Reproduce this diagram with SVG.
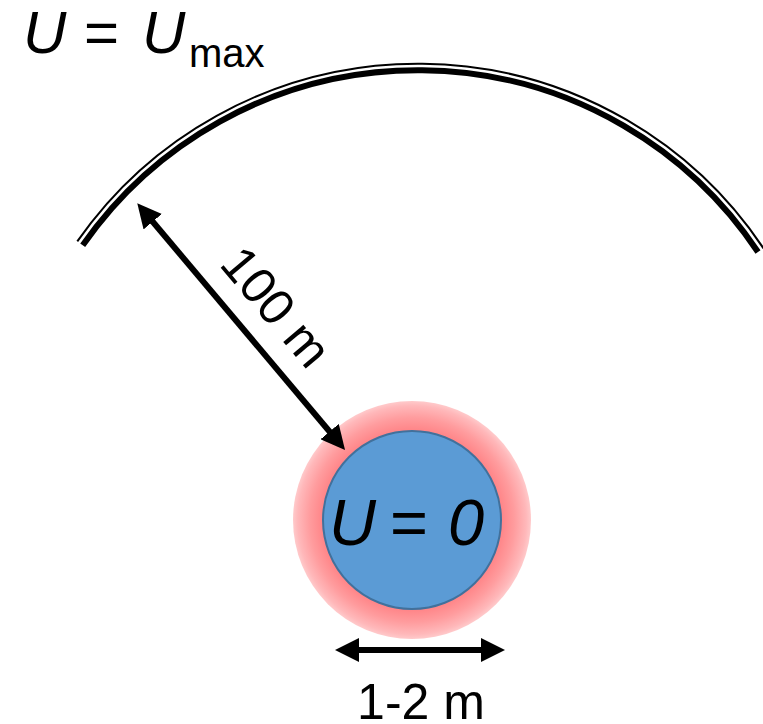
<svg xmlns="http://www.w3.org/2000/svg" width="763" height="724" viewBox="0 0 763 724">
  <style>
    .lbl { font-family: "Liberation Sans", Arial, sans-serif; fill: #000; }
    .it { font-style: italic; }
    .arc { fill: none; stroke: #000; stroke-linecap: butt; }
    .arrow { fill: none; stroke: #000; stroke-width: 6; marker-start: url(#head); marker-end: url(#head); }
  </style>
  <defs>
    <marker id="head" markerUnits="userSpaceOnUse" markerWidth="24" markerHeight="24" viewBox="0 0 24 24" refX="12" refY="12" orient="auto-start-reverse">
      <path d="M0,0 L24,12 L0,24 Z" fill="#000"/>
    </marker>
    <radialGradient id="glow" gradientUnits="userSpaceOnUse" cx="412" cy="520" r="119">
      <stop offset="0" stop-color="#FF7C80"/>
      <stop offset="0.74" stop-color="#FF8285"/>
      <stop offset="0.86" stop-color="#FF9C9E"/>
      <stop offset="0.96" stop-color="#FFB8BA"/>
      <stop offset="1" stop-color="#FFCACB"/>
    </radialGradient>
  </defs>

  <g id="boundary">
    <path class="arc" stroke-width="2" d="M77.3,241.4 A415.5,415.5 0 0 1 763.5,248.4"/>
    <path class="arc" stroke-width="6" d="M82.7,245.2 A408.8,408.8 0 0 1 758,252"/>
  </g>

  <g id="label-umax">
    <text class="lbl" y="53" font-size="60"><tspan class="it" x="23">U</tspan><tspan x="84">=</tspan><tspan class="it" x="142">U</tspan><tspan x="189" y="67" font-size="40">max</tspan></text>
  </g>

  <g id="source">
    <circle cx="412" cy="520" r="119" fill="url(#glow)"/>
    <circle cx="412" cy="520" r="89" fill="#5B9BD5" stroke="#41719C" stroke-width="2"/>
    <text class="lbl" y="545" font-size="65"><tspan class="it" x="329">U</tspan><tspan x="390">=</tspan><tspan class="it" x="448">0</tspan></text>
  </g>

  <g id="connectors">
    <path class="arrow" d="M145.0,212.5 L337.3,440.8"/>
    <path class="arrow" d="M347,650 L493,650"/>
  </g>

  <g id="label-100m">
    <text class="lbl" font-size="50" text-anchor="middle" transform="translate(263,318) rotate(49.9)">100 m</text>
  </g>

  <g id="label-12m">
    <text class="lbl" x="421" y="719" font-size="50" text-anchor="middle">1-2 m</text>
  </g>
</svg>
